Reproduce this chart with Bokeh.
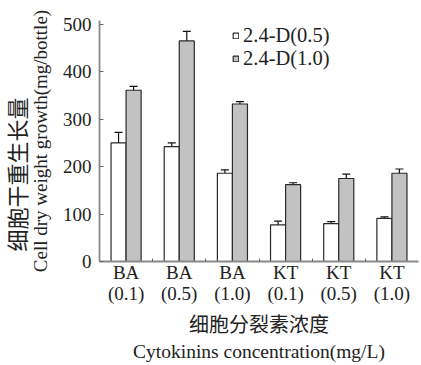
import numpy as np
from bokeh.plotting import figure
from bokeh.models import (ColumnDataSource, Range1d, FixedTicker, Whisker, TeeHead,
                          Title, Legend, LegendItem)
from bokeh.embed import file_html
from bokeh.resources import INLINE

categories = ["BA\n(0.1)", "BA\n(0.5)", "BA\n(1.0)", "KT\n(0.1)", "KT\n(0.5)", "KT\n(1.0)"]
series_names = ["2.4-D(0.5)", "2.4-D(1.0)"]
d05_mean = [250, 242, 186, 77, 80, 91]
d05_err = [22, 8, 7, 8, 4, 3]
d10_mean = [361, 465, 332, 162, 175, 186]
d10_err = [8, 20, 5, 4, 9, 9]
y_ticks = [0, 100, 200, 300, 400, 500]

SERIF = "Times New Roman"
CJK = "Noto Sans CJK SC"
BAR_W = 0.283
X_END = 6.0
Y_END = 508

centers = np.arange(len(categories)) + 0.5
boundaries = list(np.arange(1, len(categories)))

def make_src(mean, err, shift):
    m = np.array(mean, float)
    e = np.array(err, float)
    return ColumnDataSource(dict(x=centers + shift, top=m, upper=m + e, lower=m - e))

src1 = make_src(d05_mean, d05_err, -BAR_W / 2)
src2 = make_src(d10_mean, d10_err, BAR_W / 2)

p = figure(width=421, height=365, output_backend="svg", toolbar_location=None,
           x_range=Range1d(0, X_END), y_range=Range1d(0, Y_END),
           min_border_left=99, min_border_right=3, min_border_top=20, min_border_bottom=104)
p.outline_line_color = None
p.grid.grid_line_color = None

r1 = p.vbar(x="x", top="top", width=BAR_W, source=src1, fill_color="white",
            line_color="#2a2a2a", line_width=1.2)
r2 = p.vbar(x="x", top="top", width=BAR_W, source=src2, fill_color="#c2c2c2",
            line_color="#2a2a2a", line_width=1.2)

for s in (src1, src2):
    w = Whisker(base="x", upper="upper", lower="lower", source=s,
                line_color="#111111", line_width=1.2,
                upper_head=TeeHead(size=8, line_color="#111111", line_width=1.2),
                lower_head=TeeHead(size=8, line_color="#111111", line_width=1.2))
    p.add_layout(w)

# x axis
xa = p.xaxis[0]
xa.ticker = FixedTicker(ticks=list(centers), minor_ticks=boundaries)
xa.major_label_overrides = {float(c): lab for c, lab in zip(centers, categories)}
xa.major_tick_in = 0
xa.major_tick_out = 0
xa.minor_tick_in = 3
xa.minor_tick_out = 0
xa.minor_tick_line_color = "#666666"
xa.axis_line_color = "#888888"
xa.axis_line_width = 1.8
xa.major_label_text_font = SERIF
xa.major_label_text_font_size = "19px"
xa.major_label_text_color = "#222222"
xa.major_label_text_line_height = 1.0
xa.major_label_standoff = 0

# y axis
ya = p.yaxis[0]
ya.ticker = FixedTicker(ticks=y_ticks, minor_ticks=[])
ya.major_tick_in = 4
ya.major_tick_out = 0
ya.major_tick_line_color = "#666666"
ya.axis_line_color = "#888888"
ya.axis_line_width = 1.8
ya.major_label_text_font = SERIF
ya.major_label_text_font_size = "19px"
ya.major_label_text_color = "#222222"
ya.major_label_standoff = 8
ya.axis_label = "Cell dry weight growth(mg/bottle)"
ya.axis_label_text_font = SERIF
ya.axis_label_text_font_size = "19px"
ya.axis_label_text_font_style = "normal"
ya.axis_label_text_color = "#222222"
ya.axis_label_standoff = 9

# x titles (Chinese above English)
p.add_layout(Title(text="细胞分裂素浓度", align="center",
                   text_font=CJK, text_font_size="20px", text_font_style="normal",
                   text_color="#222222", standoff=1, offset=7), "below")
p.add_layout(Title(text="Cytokinins concentration(mg/L)", align="center",
                   text_font=SERIF, text_font_size="19.5px", text_font_style="normal",
                   text_color="#222222", standoff=0, offset=8), "below")
# y Chinese title
p.add_layout(Title(text="细胞干重生长量", align="left",
                   text_font=CJK, text_font_size="22px", text_font_style="normal",
                   text_color="#222222", standoff=-11, offset=10), "left")

legend = Legend(items=[LegendItem(label=series_names[0], renderers=[r1]),
                       LegendItem(label=series_names[1], renderers=[r2])],
                location=(133, 191), glyph_width=7, glyph_height=7,
                label_text_font=SERIF, label_text_font_size="20.5px",
                label_text_color="#222222", label_height=22, label_standoff=4,
                spacing=0, padding=0, margin=0,
                border_line_color=None, background_fill_alpha=0)
p.add_layout(legend, "center")

open("out.html", "w").write(file_html(p, INLINE))
